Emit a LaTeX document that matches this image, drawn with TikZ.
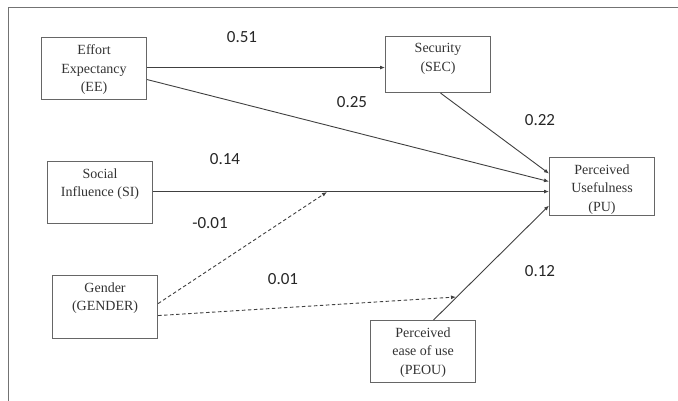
\documentclass[tikz,border=0pt]{standalone}
\usepackage{fontspec}
\setmainfont{Liberation Serif}
\newfontfamily\weightfont{Carlito}
\usepackage{tikz}
\usetikzlibrary{
	arrows.meta,
	positioning,
}
\tikzset{
	box/.style={
		draw=black!60,
		line width=1.1pt,
		anchor=north west,
		minimum width=105pt,
		inner sep=0pt,
	},
	boxtext/.style={
		anchor=north,
		align=center,
		inner sep=0pt,
		yshift=-7.5pt,
		font=\fontsize{14}{18.5}\selectfont,
		text=black!80,
	},
	link/.style={
		draw=black!75,
		line width=0.9pt,
		-{Latex[length=5pt,width=4pt]},
	},
	moderator/.style={
		link,
		dash pattern=on 3.5pt off 2.5pt,
	},
	weight/.style={
		font=\weightfont\fontsize{17}{17}\selectfont,
		inner sep=0pt,
		text=black!85,
	},
}

\begin{document}
\begin{tikzpicture}[x=1pt,y=-1pt]
\useasboundingbox (0,0) rectangle (678,400);
\clip (0,0) rectangle (678,400);

% outer frame
\draw[black!55, line width=1.3pt] (8.5,420) -- (8.5,7.5) -- (700,7.5);

\node[box, minimum height=62pt, label={[boxtext]90:Effort\\Expectancy\\(EE)}] (ee) at (41,37) {};
\node[box, minimum height=56pt, label={[boxtext]90:Security\\(SEC)}] (sec) at (385,36) {};
\node[box, minimum height=62pt, label={[boxtext]90:Social\\Influence (SI)}] (si) at (47,161) {};
\node[box, minimum height=58pt, label={[boxtext]90:Perceived\\Usefulness\\(PU)}] (pu) at (549,157) {};
\node[box, minimum height=63pt, label={[boxtext]90:Gender\\(GENDER)}] (gen) at (52,275) {};
\node[box, minimum height=62pt, label={[boxtext]90:Perceived\\ease of use\\(PEOU)}] (peou) at (370,320) {};

\coordinate (m1) at (327,192);
\coordinate (m2) at (456,297);

\draw[link] ([yshift=1pt]ee.east) -- ([yshift=1pt]ee.east -| sec.west);
\draw[link] ([yshift=-11pt]ee.east) -- ([yshift=5pt]pu.west);
\draw[link] ([xshift=2.5pt]sec.south) -- ([yshift=13pt]pu.west);
\draw[link] ([yshift=1pt]si.east) -- ([yshift=1pt]si.east -| pu.west);
\draw[link] ([xshift=10.5pt]peou.north) -- ([yshift=-19pt]pu.west);

\draw[moderator] ([yshift=3.5pt]gen.east) -- (m1);
\draw[moderator] ([yshift=-8.5pt]gen.east) -- (m2);

\foreach[count=\i] \t/\x/\y in {
	0.51/242/37.5, 0.25/352/102, 0.22/540/120, 0.14/225/159,%
	-0.01/210/223, 0.01/283/279, 0.12/540/271%
}{
	\node[weight] (w\i) at (\x,\y) {\t};
}
\end{tikzpicture}
\end{document}
